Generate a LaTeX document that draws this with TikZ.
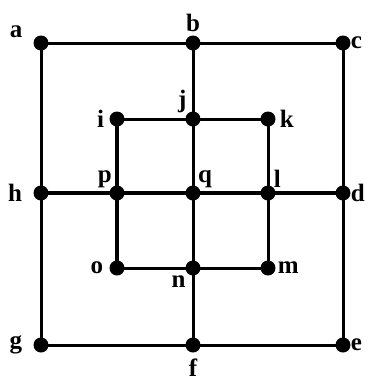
\documentclass[tikz,border=0pt]{standalone}
\usepackage{fontspec}
\setmainfont{Liberation Serif}
\usepackage{tikz}
\usetikzlibrary{positioning}

\begin{document}
\begin{tikzpicture}[
    x=1pt, y=-1pt,
    vertex/.style={circle, fill=black, inner sep=0pt, minimum size=15pt},
    lbl/.style={font=\fontsize{25}{25}\selectfont\bfseries, inner sep=1pt},
    edge/.style={line width=3pt},
    heavy/.style={line width=4pt}
]
    \useasboundingbox (0,0) rectangle (368,384);

    % Nodes
    \node[vertex, label={[lbl, label distance=10pt]168:a}] (a) at (41,43) {};
    \node[vertex, label={[lbl, label distance=2pt]above:b}] (b) at (193,43) {};
    \node[vertex, label={[lbl, label distance=-1pt]right:c}] (c) at (343,43) {};
    \node[vertex, label={[lbl, label distance=-1pt]right:d}] (d) at (343,193) {};
    \node[vertex, label={[lbl, label distance=-1pt]right:e}] (e) at (343,345) {};
    \node[vertex, label={[lbl, label distance=5pt]below:f}] (f) at (193,345) {};
    \node[vertex, label={[lbl, label distance=10pt]left:g}] (g) at (41,345) {};
    \node[vertex, label={[lbl, label distance=10pt]left:h}] (h) at (41,193) {};
    \node[vertex, label={[lbl, label distance=4pt]left:i}] (i) at (117,119) {};
    \node[vertex, label={[lbl, label distance=0pt]above left:j}] (j) at (193,119) {};
    \node[vertex, label={[lbl, label distance=3pt]right:k}] (k) at (268,119) {};
    \node[vertex, label={[lbl, label distance=-1pt]above right:l}] (l) at (268,193) {};
    \node[vertex, label={[lbl, label distance=1pt]right:m}] (m) at (268,268) {};
    \node[vertex, label={[lbl, label distance=1pt]below left:n}] (n) at (193,268) {};
    \node[vertex, label={[lbl, label distance=5pt]left:o}] (o) at (117,268) {};
    \node[vertex, label={[lbl, label distance=-2pt]above left:p}] (p) at (117,193) {};
    \node[vertex, label={[lbl, label distance=-2pt]above right:q}] (q) at (193,193) {};

    % Edges
    \draw[edge] (a.center) -- (b.center) -- (c.center) -- (d.center) -- (e.center)
        -- (f.center) -- (g.center) -- (h.center) -- cycle;
    \draw[heavy] (h.center) -- (p.center) -- (q.center) -- (l.center) -- (d.center);
    \draw[edge] (b.center) -- (j.center) -- (q.center) -- (n.center) -- (f.center);
    \draw[edge] (i.center) -- (j.center) -- (k.center) -- (l.center) -- (m.center)
        -- (n.center) -- (o.center);
    \draw[heavy] (o.center) -- (p.center) -- (i.center);
\end{tikzpicture}
\end{document}
